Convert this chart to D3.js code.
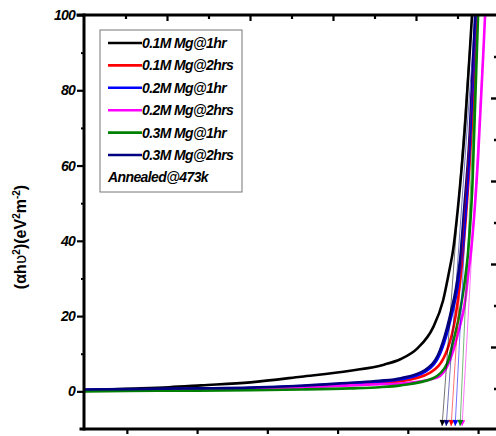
<!DOCTYPE html>
<html lang="en">
<head>
<meta charset="UTF-8">
<title>Tauc plot</title>
<style>
  body { margin: 0; background: #fff; }
  svg { display: block; }
  .tick text { font-family: "Liberation Sans", Arial, sans-serif; }
</style>
</head>
<body>
<svg id="chart" width="496" height="436"></svg>
<script src="https://cdn.jsdelivr.net/npm/d3@7/dist/d3.min.js"></script>
<script>
// ---- data (photon energy in eV vs (alpha h nu)^2) ----
const seriesLabels = ["0.1M Mg@1hr", "0.1M Mg@2hrs", "0.2M Mg@1hr", "0.2M Mg@2hrs", "0.3M Mg@1hr", "0.3M Mg@2hrs"];
const seriesColors = ["#000000", "#ff0000", "#0000ff", "#ff00ff", "#008000", "#000080"];

const mg01_1hr  = [[0.70,0.3],[1.0,0.7],[1.3,1.1],[1.53,1.6],[1.88,2.4],[2.24,3.9],[2.59,5.5],[2.83,7.1],[2.95,8.6],[3.07,11.5],[3.18,17],[3.25,24],[3.30,33],[3.32,37],[3.36,50],[3.41,72],[3.457,100],[3.47,108]];
const mg01_2hrs = [[0.70,0.3],[1.0,0.4],[1.5,0.6],[1.88,0.8],[2.24,1.2],[2.59,1.9],[2.8,2.3],[2.95,2.7],[3.16,5],[3.28,11],[3.34,20],[3.372,29],[3.393,37],[3.43,55],[3.493,100],[3.50,108]];
const mg02_1hr  = [[0.70,0.4],[1.0,0.5],[1.5,0.7],[1.88,0.9],[2.24,1.4],[2.59,2.1],[2.8,2.6],[2.95,3.2],[3.13,5.4],[3.24,11],[3.31,20],[3.36,29],[3.38,35],[3.42,52],[3.487,100],[3.50,108]];
const mg02_2hrs = [[0.70,0.2],[1.0,0.3],[1.5,0.5],[1.88,0.6],[2.24,1.0],[2.59,1.6],[2.8,1.9],[2.95,2.1],[3.21,3.7],[3.30,8.3],[3.358,15.5],[3.408,24],[3.436,33],[3.443,35],[3.50,62],[3.55,100],[3.56,108]];
const mg03_1hr  = [[0.70,0.0],[1.0,0.1],[1.5,0.2],[1.88,0.3],[2.24,0.5],[2.59,0.8],[2.8,1.1],[2.95,1.6],[3.18,3.5],[3.28,7.4],[3.32,12.8],[3.365,20],[3.408,30],[3.429,37],[3.46,55],[3.50,100],[3.51,108]];
const mg03_2hrs = [[0.70,0.5],[1.0,0.6],[1.5,0.8],[1.88,1.0],[2.24,1.5],[2.59,2.3],[2.8,2.8],[2.95,3.5],[3.12,5.6],[3.23,11],[3.30,20],[3.35,29],[3.372,35],[3.40,48],[3.44,68],[3.479,100],[3.49,108]];
const seriesData = [mg01_1hr, mg01_2hrs, mg02_1hr, mg02_2hrs, mg03_1hr, mg03_2hrs];

// linear fits extrapolated to the energy axis (arrow tip x, x where fit reaches 100)
const fitIntercept = [3.244, 3.308, 3.337, 3.386, 3.372, 3.273];
const fitTop       = [3.457, 3.493, 3.487, 3.55, 3.50, 3.479];
const arrowY = -9.2;

const yMajor = [0, 20, 40, 60, 80, 100];
const yMinor = [10, 30, 50, 70, 90];
const xTicks = [1.0, 1.5, 2.0, 2.5, 3.0, 3.5];
const topMajor = [1, 2, 3, 4];
const topMinor = [0.5, 1.5, 2.5, 3.5, 4.5];
const rightMajor = [1, 2, 3, 4];
const rightMinor = [0.5, 1.5, 2.5, 3.5, 4.5];
const legendNote = "Annealed@473k";

// ---- layout ----
const svg = d3.select('#chart');
const mLeft = 84, mRight = 499, mTop = 15, mBottom = 429;

const x = d3.scaleLinear().domain([0.695, 3.649]).range([mLeft, mRight]);
const y = d3.scaleLinear().domain([-10, 100]).range([mBottom, mTop]);
const xTop = d3.scaleLinear().domain([0, 5]).range([mLeft, mLeft + 415]);
const yRight = d3.scaleLinear().domain([0, 5]).range([mTop, mTop + 415]);

const defs = svg.append('defs');
defs.append('clipPath').attr('id', 'plot-clip')
  .append('rect').attr('x', mLeft).attr('y', mTop).attr('width', mRight - mLeft).attr('height', mBottom - mTop);

seriesColors.forEach((c, i) => {
  defs.append('marker')
    .attr('id', 'arrow' + i)
    .attr('viewBox', '0 0 10 10')
    .attr('refX', 10).attr('refY', 5)
    .attr('markerUnits', 'userSpaceOnUse')
    .attr('markerWidth', 7).attr('markerHeight', 6)
    .attr('orient', 'auto')
    .append('path').attr('d', 'M0,0L10,5L0,10Z').attr('fill', c);
});

const plot = svg.append('g').attr('clip-path', 'url(#plot-clip)');

const line = d3.line()
  .x(d => x(d[0]))
  .y(d => y(d[1]))
  .curve(d3.curveMonotoneX);

plot.selectAll('.curve')
  .data(seriesData)
  .enter().append('path')
  .attr('class', 'curve')
  .attr('d', line)
  .attr('fill', 'none')
  .attr('stroke', (d, i) => seriesColors[i])
  .attr('stroke-width', 2.6)
  .attr('stroke-linejoin', 'round');

// tangent lines with arrows
svg.selectAll('.fit')
  .data(fitIntercept)
  .enter().append('line')
  .attr('class', 'fit')
  .attr('x1', (d, i) => x(fitTop[i]))
  .attr('y1', y(100))
  .attr('x2', d => x(d))
  .attr('y2', y(arrowY))
  .attr('stroke', (d, i) => seriesColors[i])
  .attr('stroke-opacity', 0.55)
  .attr('stroke-width', 1)
  .attr('marker-end', (d, i) => 'url(#arrow' + i + ')');

// ---- axes ----
function styleAxis(g, width) {
  g.select('.domain').remove();
  g.selectAll('.tick line').attr('stroke', '#000').attr('stroke-width', width);
}

svg.append('g').attr('transform', `translate(${mLeft},0)`)
  .call(d3.axisLeft(y).tickValues(yMajor).tickSize(7).tickPadding(2).tickFormat(d3.format('d')))
  .call(g => styleAxis(g, 2.2))
  .call(g => g.selectAll('.tick text')
    .attr('font-size', 14).attr('font-weight', 'bold').attr('font-style', 'italic')
    .attr('letter-spacing', -0.8).attr('fill', '#000'));

svg.append('g').attr('transform', `translate(${mLeft},0)`)
  .call(d3.axisLeft(y).tickValues(yMinor).tickSize(3).tickFormat(''))
  .call(g => styleAxis(g, 2));

svg.append('g').attr('transform', `translate(0,${mBottom})`)
  .call(d3.axisBottom(x).tickValues(xTicks).tickSize(5).tickFormat(''))
  .call(g => styleAxis(g, 2.2));

svg.append('g').attr('transform', `translate(0,${mTop})`)
  .call(d3.axisBottom(xTop).tickValues(topMajor).tickSize(6).tickFormat(''))
  .call(g => styleAxis(g, 2.2));
svg.append('g').attr('transform', `translate(0,${mTop})`)
  .call(d3.axisBottom(xTop).tickValues(topMinor).tickSize(4).tickFormat(''))
  .call(g => styleAxis(g, 2.2));

svg.append('g').attr('transform', `translate(${mRight - 2},0)`)
  .call(d3.axisLeft(yRight).tickValues(rightMajor).tickSize(6).tickFormat(''))
  .call(g => styleAxis(g, 2.4));
svg.append('g').attr('transform', `translate(${mRight - 2},0)`)
  .call(d3.axisLeft(yRight).tickValues(rightMinor).tickSize(3).tickFormat(''))
  .call(g => styleAxis(g, 2.4));

// frame lines
const frame = svg.append('g').attr('stroke', '#000').attr('stroke-width', 3).attr('stroke-linecap', 'square');
frame.append('line').attr('x1', mLeft).attr('x2', mLeft).attr('y1', mTop).attr('y2', mBottom);
frame.append('line').attr('x1', mLeft - 6).attr('x2', 496).attr('y1', mTop).attr('y2', mTop);
frame.append('line').attr('x1', mLeft - 3).attr('x2', 496).attr('y1', mBottom).attr('y2', mBottom);

// y label
const ylab = svg.append('text')
  .attr('transform', 'translate(26,237) rotate(-90)')
  .attr('text-anchor', 'middle')
  .attr('font-family', '"Liberation Sans", Arial, sans-serif')
  .attr('font-size', 16)
  .attr('font-weight', 'bold');
ylab.append('tspan').text('(\u03b1h');
ylab.append('tspan').attr('font-family', '"DejaVu Sans", sans-serif').attr('font-weight', 'normal').text('\u028b');
ylab.append('tspan').attr('font-size', 10).attr('dy', -6).text('2');
ylab.append('tspan').attr('dy', 6).text(')(eV');
ylab.append('tspan').attr('font-size', 10).attr('dy', -6).text('2');
ylab.append('tspan').attr('dy', 6).text('m');
ylab.append('tspan').attr('font-size', 10).attr('dy', -6).text('-2');
ylab.append('tspan').attr('dy', 6).text(')');

// ---- legend ----
const legend = svg.append('g').attr('transform', 'translate(100,30)');
legend.append('rect')
  .attr('width', 142).attr('height', 162)
  .attr('fill', '#fff').attr('stroke', '#777').attr('stroke-width', 1);

const rowH = 22.4;
const rows = legend.selectAll('.leg')
  .data(seriesLabels)
  .enter().append('g')
  .attr('class', 'leg')
  .attr('transform', (d, i) => `translate(0,${13 + i * rowH})`);
rows.append('line')
  .attr('x1', 8).attr('x2', 42)
  .attr('stroke', (d, i) => seriesColors[i])
  .attr('stroke-width', 2.6);
rows.append('text')
  .attr('x', 42).attr('dy', '0.35em')
  .attr('font-family', '"Liberation Sans", Arial, sans-serif')
  .attr('font-size', 14).attr('font-style', 'italic').attr('font-weight', 'bold')
  .attr('letter-spacing', -0.6)
  .text(d => d);
legend.append('text')
  .attr('x', 8).attr('y', 13 + 6 * rowH).attr('dy', '0.35em')
  .attr('font-family', '"Liberation Sans", Arial, sans-serif')
  .attr('font-size', 14).attr('font-style', 'italic').attr('font-weight', 'bold')
  .attr('letter-spacing', -0.6)
  .text(legendNote);
</script>
</body>
</html>
